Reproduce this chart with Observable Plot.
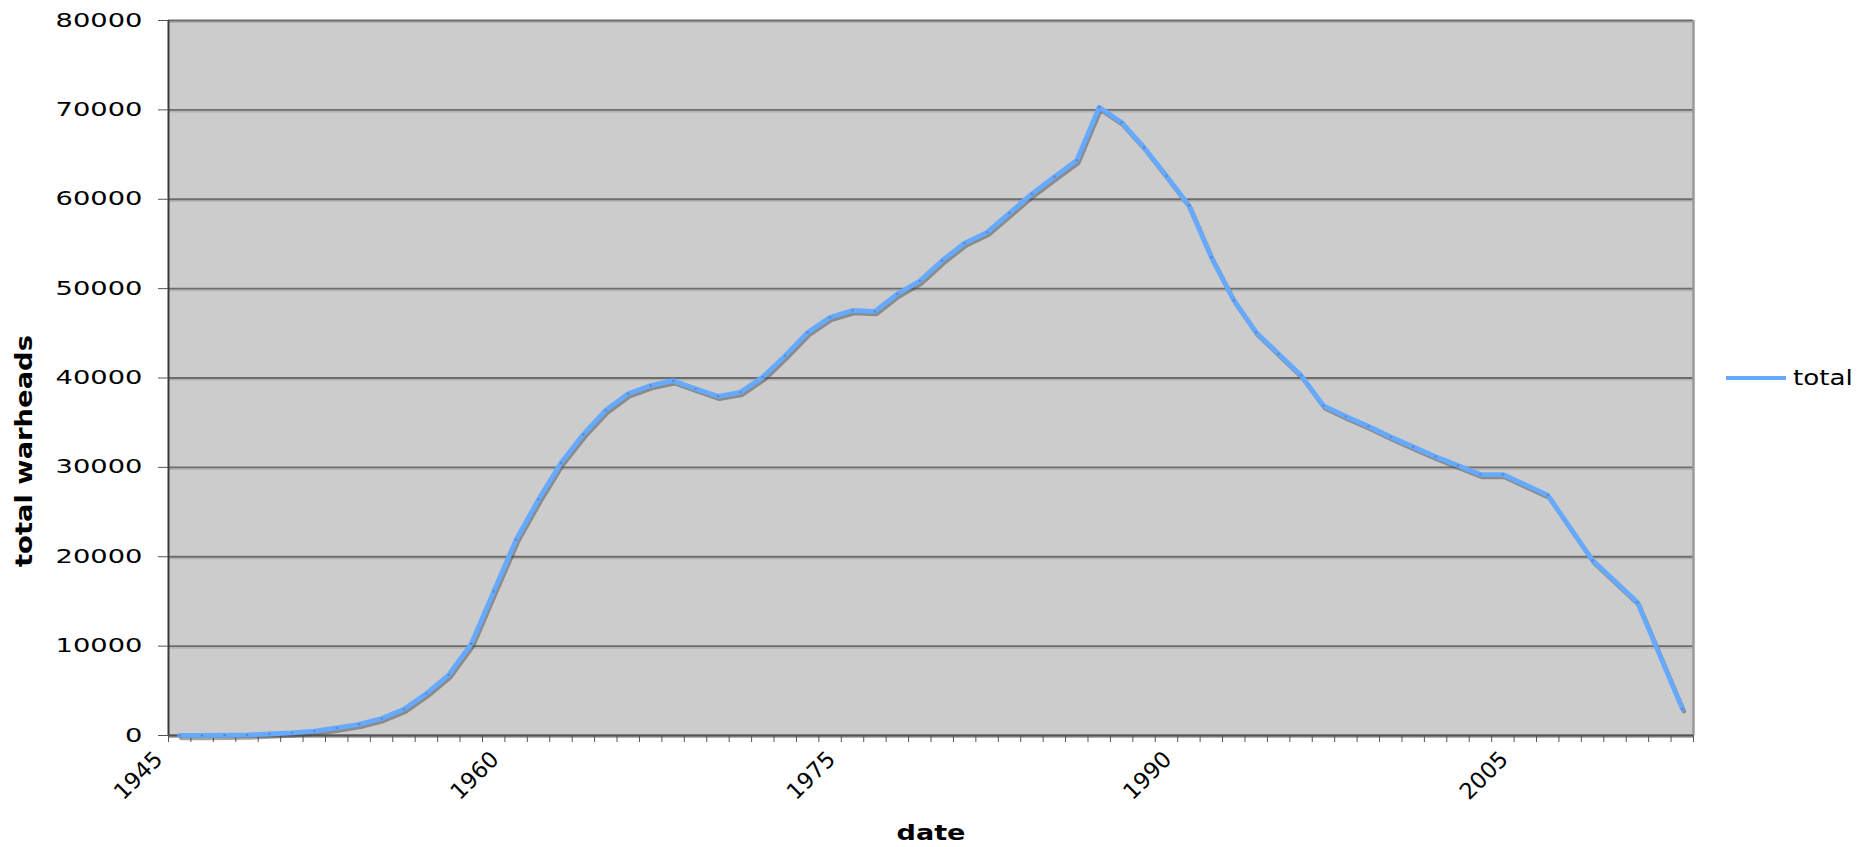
<!DOCTYPE html>
<html>
<head>
<meta charset="utf-8">
<script src="https://cdn.jsdelivr.net/npm/d3@7"></script>
<script src="https://cdn.jsdelivr.net/npm/@observablehq/plot@0.6"></script>
<style>
  html, body { margin: 0; padding: 0; background: #ffffff; }
  #chart { position: relative; width: 1859px; height: 847px; font-family: "DejaVu Sans", Verdana, sans-serif; color: #000; }
  #chart svg { position: absolute; left: 0; top: 0; }
  .ytitle {
    position: absolute; left: 23.5px; top: 451px;
    font-weight: bold; font-size: 23px; white-space: nowrap; line-height: 1;
    transform: translate(-50%, -50%) rotate(-90deg) scaleX(1.19);
  }
  .xtitle {
    position: absolute; left: 931px; top: 833px;
    font-weight: bold; font-size: 22px; white-space: nowrap; line-height: 1;
    transform: translate(-50%, -50%) scaleX(1.23);
  }
  .legend {
    position: absolute; left: 1726px; top: 378px; transform: translateY(-50%);
    display: flex; align-items: center; white-space: nowrap;
  }
  .legend .swatch { width: 60px; height: 4px; background: #66aaff; }
  .legend .name { margin-left: 7px; font-size: 22px; line-height: 1; transform: scaleX(1.19); transform-origin: left center; }
</style>
</head>
<body>
<div id="chart">
  <div class="ytitle">total warheads</div>
  <div class="xtitle">date</div>
  <div class="legend"><div class="swatch"></div><div class="name">total</div></div>
</div>
<script>
// Total nuclear warheads by year
const years = [
  1945, 1946, 1947, 1948, 1949, 1950, 1951, 1952, 1953, 1954,
  1955, 1956, 1957, 1958, 1959, 1960, 1961, 1962, 1963, 1964,
  1965, 1966, 1967, 1968, 1969, 1970, 1971, 1972, 1973, 1974,
  1975, 1976, 1977, 1978, 1979, 1980, 1981, 1982, 1983, 1984,
  1985, 1986, 1987, 1988, 1989, 1990, 1991, 1992, 1993, 1994,
  1995, 1996, 1997, 1998, 1999, 2000, 2001, 2002, 2003, 2004,
  2006, 2008, 2010, 2012
];
const totals = [
  3, 10, 30, 60, 170, 300, 500, 850, 1250, 1900,
  2950, 4700, 6800, 10250, 16100, 21900, 26400, 30500, 33700, 36400,
  38250, 39150, 39700, 38800, 37950, 38400, 40100, 42500, 45100, 46800,
  47550, 47450, 49400, 50850, 53150, 55100, 56300, 58450, 60600, 62500,
  64350, 70300, 68600, 65800, 62600, 59300, 53500, 48700, 45100, 42700,
  40300, 36900, 35700, 34600, 33400, 32300, 31200, 30200, 29200, 29200,
  26900, 19600, 14900, 3000
];
const labelYears = [1945, 1960, 1975, 1990, 2005];
const yTicks = [0, 10000, 20000, 30000, 40000, 50000, 60000, 70000, 80000];
const firstYear = 1945;
const lastYear = 2012;

const data = years.map((year, i) => ({year, total: totals[i]}));
// one tick mark between each pair of neighbouring years
const boundaries = d3.range(firstYear - 0.5, lastYear + 1, 1);

const chart = Plot.plot({
  width: 1859,
  height: 847,
  marginLeft: 168,
  marginRight: 166,
  marginTop: 20,
  marginBottom: 112,
  style: {fontFamily: "DejaVu Sans, Verdana, sans-serif", background: "transparent", color: "#000"},
  x: {domain: [firstYear - 0.5, lastYear + 0.5]},
  y: {domain: [0, 80000]},
  marks: [
    Plot.frame({fill: "#cccccc", stroke: null}),
    Plot.gridY({ticks: yTicks, stroke: "#b2b2b2", strokeOpacity: 1, strokeWidth: 1.5, dy: 1.8}),
    Plot.gridY({ticks: yTicks, stroke: "#6c6c6c", strokeOpacity: 1, strokeWidth: 1.8}),
    Plot.ruleX([lastYear + 0.5], {stroke: "#9a9a9a", strokeWidth: 2.5}),
    Plot.ruleX([firstYear - 0.5], {stroke: "#3a3a3a", strokeWidth: 2}),
    Plot.ruleY([0], {stroke: "#555555", strokeWidth: 2}),
    Plot.axisY({ticks: yTicks, tickSize: 10, tickPadding: 16, fontSize: 19, stroke: "#555", label: null, tickFormat: d => String(d)}),
    Plot.axisX({ticks: boundaries, tickSize: 7, stroke: "#555", label: null, tickFormat: () => ""}),
    Plot.axisX({ticks: labelYears, tickSize: 0, tickPadding: 20, tickRotate: -45, fontSize: 22.5, dx: -21, label: null, tickFormat: d => String(d)}),
    // soft shadow under the series line
    Plot.line(data, {x: "year", y: "total", stroke: "#4a4a4a", strokeOpacity: 0.5, strokeWidth: 4.5, dx: 1.5, dy: 2.5, strokeLinejoin: "round"}),
    Plot.line(data, {x: "year", y: "total", stroke: "#66aaff", strokeWidth: 4.8, strokeLinejoin: "round"}),
    Plot.dot(data, {x: "year", y: "total", r: 1.3, fill: "#56708f", fillOpacity: 0.55})
  ]
});

// widen the value labels on the vertical axis
d3.select(chart).selectAll('[aria-label="y-axis tick label"] text').each(function () {
  const t = this.getAttribute("transform");
  if (t) {
    this.setAttribute("transform", t + " scale(1.44,1)");
  } else {
    const x = this.getAttribute("x") || 0;
    this.removeAttribute("x");
    this.setAttribute("transform", `translate(${x},0) scale(1.44,1)`);
  }
});

document.getElementById("chart").prepend(chart);
</script>
</body>
</html>
